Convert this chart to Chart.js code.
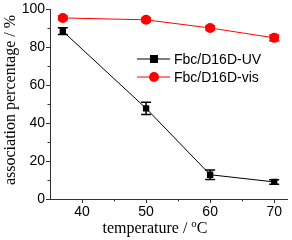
<!DOCTYPE html>
<html>
<head>
<meta charset="utf-8">
<script src="https://cdn.jsdelivr.net/npm/chart.js@4"></script>
<style>
html, body { margin: 0; padding: 0; background: #fff; }
#wrap { width: 292px; height: 240px; }
</style>
</head>
<body>
<div id="wrap"><canvas id="chart" width="292" height="240"></canvas></div>
<script>
var temperatures = [37, 50, 60, 70];
var uvValues = [88.5, 47.8, 12.8, 9];
var uvErrors = [1.8, 3.2, 2.5, 1.2];
var visValues = [95.5, 94.5, 90.2, 85];
var visErrors = [1, 1, 1, 1.5];
var xTicks = [40, 50, 60, 70];
var yTicks = [0, 20, 40, 60, 80, 100];
var seriesLabels = ['Fbc/D16D-UV', 'Fbc/D16D-vis'];
var xTitle = 'temperature / ';
var yTitle = 'association percentage / %';

var axisColor = '#333';
var tickFont = { family: 'Liberation Sans, Arial, sans-serif', size: 14 };

var toPoints = function(xs, ys) {
	var points = [];
	for (var i = 0; i < xs.length; i++) {
		points.push({ x: xs[i], y: ys[i] });
	}
	return points;
};

var midpoints = function(ticks) {
	var mids = [];
	for (var i = 0; i < ticks.length - 1; i++) {
		mids.push((ticks[i] + ticks[i + 1]) / 2);
	}
	return mids;
};

/* error bars */
var errorBars = {
	id: 'errorBars',
	afterDatasetsDraw: function(chart) {
		var ctx = chart.ctx;
		var xs = chart.scales.x;
		var ys = chart.scales.y;
		chart.data.datasets.forEach(function(dataset) {
			ctx.save();
			ctx.strokeStyle = dataset.borderColor;
			ctx.lineWidth = 1.5;
			for (var i = 0; i < dataset.data.length; i++) {
				var p = dataset.data[i];
				var e = dataset.errors[i];
				var px = xs.getPixelForValue(p.x);
				var top = ys.getPixelForValue(p.y + e);
				var bottom = ys.getPixelForValue(p.y - e);
				ctx.beginPath();
				ctx.moveTo(px, top);
				ctx.lineTo(px, bottom);
				ctx.moveTo(px - 5, top);
				ctx.lineTo(px + 5, top);
				ctx.moveTo(px - 5, bottom);
				ctx.lineTo(px + 5, bottom);
				ctx.stroke();
			}
			ctx.restore();
		});
	}
};

/* minor ticks, titles and legend */
var decorations = {
	id: 'decorations',
	afterDraw: function(chart) {
		var ctx = chart.ctx;
		var area = chart.chartArea;
		var xs = chart.scales.x;
		var ys = chart.scales.y;
		ctx.save();
		ctx.strokeStyle = axisColor;
		ctx.lineWidth = 1;
		ctx.beginPath();
		midpoints(xTicks).forEach(function(v) {
			var px = Math.round(xs.getPixelForValue(v)) + 0.5;
			ctx.moveTo(px, area.bottom);
			ctx.lineTo(px, area.bottom + 2.5);
		});
		midpoints(yTicks).forEach(function(v) {
			var py = Math.round(ys.getPixelForValue(v)) + 0.5;
			ctx.moveTo(area.left, py);
			ctx.lineTo(area.left - 2.5, py);
		});
		ctx.stroke();

		// axis titles
		ctx.fillStyle = '#000';
		ctx.font = '16px "Liberation Serif", "Times New Roman", serif';
		ctx.textBaseline = 'alphabetic';
		var w1 = ctx.measureText(xTitle).width;
		ctx.font = '11px "Liberation Serif", "Times New Roman", serif';
		var w2 = ctx.measureText('o').width;
		ctx.font = '16px "Liberation Serif", "Times New Roman", serif';
		var w3 = ctx.measureText('C').width;
		var startX = 155 - (w1 + w2 + w3) / 2;
		ctx.textAlign = 'left';
		ctx.fillText(xTitle, startX, 233);
		ctx.font = '11px "Liberation Serif", "Times New Roman", serif';
		ctx.fillText('o', startX + w1, 227);
		ctx.font = '16px "Liberation Serif", "Times New Roman", serif';
		ctx.fillText('C', startX + w1 + w2, 233);

		ctx.save();
		ctx.translate(15, 100);
		ctx.rotate(-Math.PI / 2);
		ctx.textAlign = 'center';
		ctx.fillText(yTitle, 0, 0);
		ctx.restore();

		// legend
		var rows = [59, 77];
		chart.data.datasets.forEach(function(dataset, i) {
			var y = rows[i];
			ctx.strokeStyle = dataset.borderColor;
			ctx.lineWidth = 1.2;
			ctx.beginPath();
			ctx.moveTo(137, y);
			ctx.lineTo(170, y);
			ctx.stroke();
			ctx.fillStyle = dataset.backgroundColor;
			if (dataset.pointStyle === 'rect') {
				ctx.fillRect(150, y - 4, 8, 8);
			} else {
				ctx.beginPath();
				ctx.arc(154, y, 5, 0, Math.PI * 2);
				ctx.fill();
			}
			ctx.fillStyle = '#000';
			ctx.font = '14px "Liberation Sans", Arial, sans-serif';
			ctx.textAlign = 'left';
			ctx.textBaseline = 'middle';
			ctx.fillText(dataset.label, 174, y + 1);
		});
		ctx.restore();
	}
};

var context = document.getElementById('chart').getContext('2d');
var chart = new Chart(context, {
	type: 'line',
	data: {
		datasets: [
			{ label: seriesLabels[0], data: toPoints(temperatures, uvValues), errors: uvErrors, borderColor: '#000', backgroundColor: '#000', borderWidth: 1, pointStyle: 'rect', pointRadius: 4.5, pointBorderWidth: 0, tension: 0 },
			{ label: seriesLabels[1], data: toPoints(temperatures, visValues), errors: visErrors, borderColor: '#ff0000', backgroundColor: '#ff0000', borderWidth: 1, pointStyle: 'circle', pointRadius: 5, pointBorderWidth: 0, tension: 0 }
		]
	},
	options: {
		responsive: false,
		animation: false,
		layout: { padding: { left: 0, right: 2, top: 7, bottom: 0 } },
		plugins: { legend: { display: false }, tooltip: { enabled: false } },
		scales: {
			x: {
				type: 'linear', min: 35, max: 72,
				afterBuildTicks: function(scale) { scale.ticks = xTicks.map(function(v) { return { value: v }; }); },
				afterFit: function(scale) { scale.height = 41; },
				grid: { display: true, drawOnChartArea: false, tickLength: 4, color: axisColor },
				border: { display: true, color: axisColor, width: 1 },
				ticks: { font: tickFont, color: '#000', padding: 1, maxRotation: 0 }
			},
			y: {
				type: 'linear', min: 0, max: 100,
				afterBuildTicks: function(scale) { scale.ticks = yTicks.map(function(v) { return { value: v }; }); },
				afterFit: function(scale) { scale.width = 50; },
				grid: { display: true, drawOnChartArea: false, tickLength: 4, color: axisColor },
				border: { display: true, color: axisColor, width: 1 },
				ticks: { font: tickFont, color: '#000', padding: 1 }
			}
		}
	},
	plugins: [errorBars, decorations]
});
</script>
</body>
</html>
